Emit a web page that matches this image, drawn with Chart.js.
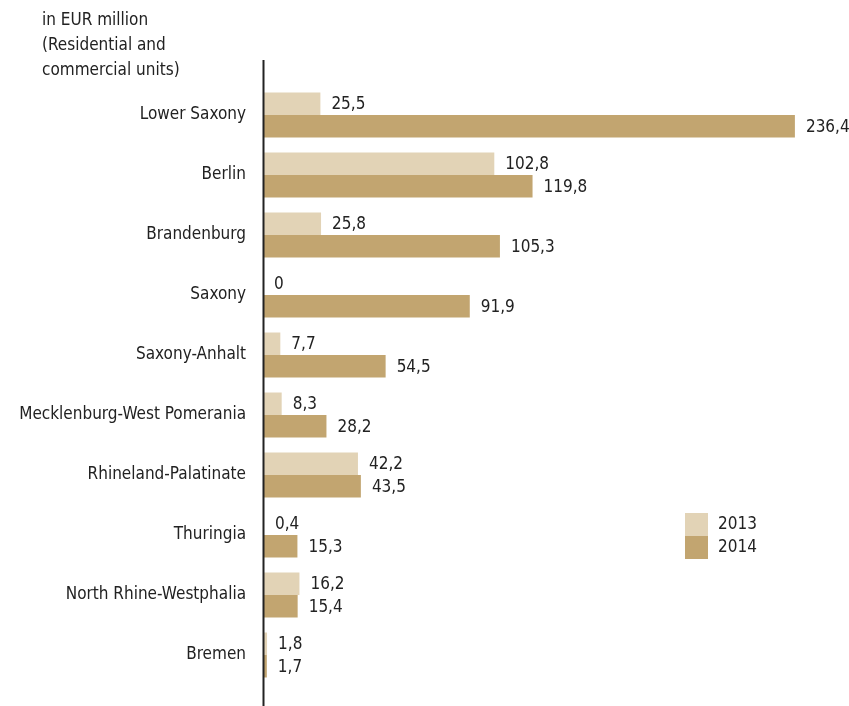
<!DOCTYPE html>
<html>
<head>
<meta charset="utf-8">
<script src="https://cdn.jsdelivr.net/npm/chart.js@4"></script>
<style>
  html, body { margin: 0; padding: 0; background: #fff; }
  #wrap { width: 849px; height: 706px; position: relative; }
</style>
</head>
<body>
<div id="wrap"><canvas id="barChart"></canvas></div>
<script>
const states = ['Lower Saxony', 'Berlin', 'Brandenburg', 'Saxony', 'Saxony-Anhalt',
  'Mecklenburg-West Pomerania', 'Rhineland-Palatinate', 'Thuringia',
  'North Rhine-Westphalia', 'Bremen'];
const values2013 = [25.5, 102.8, 25.8, 0, 7.7, 8.3, 42.2, 0.4, 16.2, 1.8];
const values2014 = [236.4, 119.8, 105.3, 91.9, 54.5, 28.2, 43.5, 15.3, 15.4, 1.7];
const unitLines = ['in EUR million', '(Residential and', 'commercial units)'];

const FONT = "'DejaVu Sans Condensed', 'Roboto', sans-serif";
const TEXT = '#222222';

const fmt = v => v === 0 ? '0' : v.toFixed(1).replace('.', ',');

// value labels next to the bars, unit text, legend and the axis line
const extras = {
    id: 'extras',
    afterDatasetsDraw(chart) {
        const c = chart.ctx;
        c.save();
        c.font = '17px ' + FONT;
        c.fillStyle = TEXT;
        c.textBaseline = 'middle';
        c.textAlign = 'left';
        chart.data.datasets.forEach((ds, i) => {
            chart.getDatasetMeta(i).data.forEach((bar, j) => {
                c.fillText(fmt(ds.data[j]), bar.x + 11, bar.y + 1);
            });
        });

        // unit text
        unitLines.forEach((t, k) => c.fillText(t, 42, 21 + k * 25));

        // axis line
        const x0 = Math.round(chart.scales.x.getPixelForValue(0)) + 0.5;
        c.strokeStyle = '#222';
        c.lineWidth = 2;
        c.beginPath();
        c.moveTo(x0, 60);
        c.lineTo(x0, chart.height);
        c.stroke();

        // legend
        chart.data.datasets.forEach((ds, i) => {
            const y = 513 + i * 23;
            c.fillStyle = ds.backgroundColor;
            c.fillRect(685, y, 23, 23);
            c.fillStyle = TEXT;
            c.fillText(ds.label, 718, y + 12);
        });
        c.restore();
    }
};

new Chart(document.getElementById('barChart'), {
    type: 'bar',
    data: {
        labels: states,
        datasets: [
            { label: '2013', data: values2013, backgroundColor: '#e2d3b6' },
            { label: '2014', data: values2014, backgroundColor: '#c2a570' }
        ]
    },
    options: {
        indexAxis: 'y',
        responsive: true,
        maintainAspectRatio: false,
        animation: false,
        layout: { padding: { top: 85, bottom: 21, left: 0, right: 1 } },
        datasets: { bar: { barPercentage: 1, categoryPercentage: 0.75 } },
        scales: {
            x: { display: false, min: 0, max: 260 },
            y: {
                grid: { display: false },
                border: { display: false },
                ticks: { color: TEXT, font: { family: FONT, size: 17 }, padding: 9 },
                afterFit(scale) { scale.width = 263; }
            }
        },
        plugins: { legend: { display: false }, tooltip: { enabled: false } }
    },
    plugins: [extras]
});
</script>
</body>
</html>
